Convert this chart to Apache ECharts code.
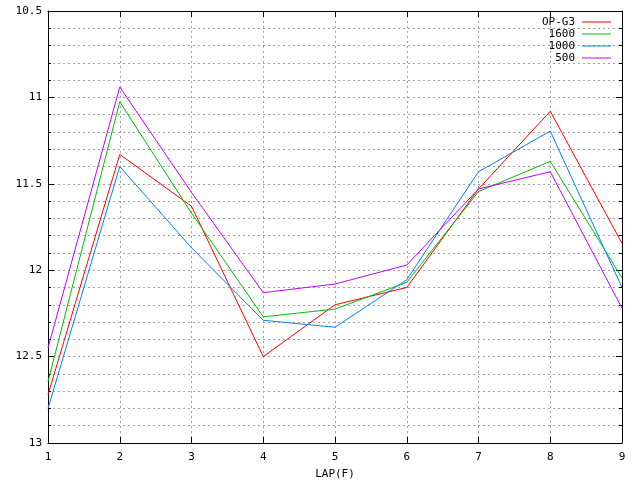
<!DOCTYPE html>
<html lang="en">
<head>
    <meta charset="UTF-8">
    <script src="https://cdn.jsdelivr.net/npm/echarts@6/dist/echarts.min.js"></script>
    <title>LAP(F)</title>
    <style type="text/css">
        html, body { margin: 0; padding: 0; background: #fff; }
        #main { width: 640px; height: 480px; }
    </style>
</head>
<body>
<div id="main"></div>
<script type="text/javascript">
    // x positions (laps)
    const laps = [1, 2, 3, 4, 5, 6, 7, 8, 9];
    const seriesNames = ['OP-G3', '1600', '1000', '500'];
    const opG3 = [12.72, 11.33, 11.63, 12.50, 12.20, 12.10, 11.53, 11.08, 11.845];
    const s1600 = [12.645, 11.025, 11.67, 12.27, 12.225, 12.07, 11.545, 11.37, 12.045];
    const s1000 = [12.80, 11.40, 11.87, 12.29, 12.33, 12.055, 11.43, 11.195, 12.10];
    const s500 = [12.45, 10.94, 11.55, 12.13, 12.08, 11.97, 11.53, 11.43, 12.22];
    const colors = ['#ff0000', '#00c000', '#0080ff', '#c000ff'];

    const font = 'DejaVu Sans Mono';
    const dotted = { show: true, lineStyle: { color: '#a0a0a0', type: [2, 3], width: 1 } };
    const blackLine = { show: true, lineStyle: { color: '#000', width: 1 } };

    function pairs(values) {
        return laps.map(function (x, i) { return [x, values[i]]; });
    }

    function yAxisCfg(showLabel) {
        return {
            type: 'value', inverse: true, min: 10.5, max: 13, interval: 0.5,
            axisLine: blackLine,
            axisTick: { show: true, inside: true, length: 6, lineStyle: { color: '#000' } },
            minorTick: { show: true, splitNumber: 5, length: 3, lineStyle: { color: '#000' } },
            splitLine: dotted,
            minorSplitLine: dotted,
            axisLabel: { show: showLabel, color: '#000', fontFamily: font, fontSize: 11, margin: 6 }
        };
    }

    function xAxisCfg(pos, showLabel) {
        return {
            type: 'value', position: pos, min: 1, max: 9, interval: 1,
            axisLine: blackLine,
            axisTick: { show: true, inside: true, length: 6, lineStyle: { color: '#000' } },
            splitLine: dotted,
            axisLabel: { show: showLabel, color: '#000', fontFamily: font, fontSize: 11, margin: 9 },
            name: showLabel ? 'LAP(F)' : '', nameLocation: 'middle', nameGap: 26,
            nameTextStyle: { color: '#000', fontFamily: font, fontSize: 11 }
        };
    }

    const allData = [opG3, s1600, s1000, s500];
    const myChart = echarts.init(document.getElementById('main'));
    const option = {
        animation: false,
        backgroundColor: '#fff',
        grid: { left: 48, right: 18, top: 11, bottom: 37, outerBoundsMode: 'none' },
        legend: {
            orient: 'vertical', right: 29, top: 16, align: 'right', padding: 0,
            icon: 'rect', itemWidth: 29, itemHeight: 1, itemGap: 0,
            data: seriesNames,
            textStyle: { color: '#000', fontFamily: font, fontSize: 11, lineHeight: 12, padding: [0, 2, 0, 0] }
        },
        xAxis: [xAxisCfg('bottom', true), xAxisCfg('top', false)],
        yAxis: [yAxisCfg(true), yAxisCfg(false)],
        series: seriesNames.map(function (name, i) {
            return {
                name: name, type: 'line', symbol: 'none',
                data: pairs(allData[i]),
                color: colors[i],
                lineStyle: { width: 1, color: colors[i] }
            };
        })
    };
    option.yAxis[1].position = 'right';
    myChart.setOption(option);
</script>
</body>
</html>
